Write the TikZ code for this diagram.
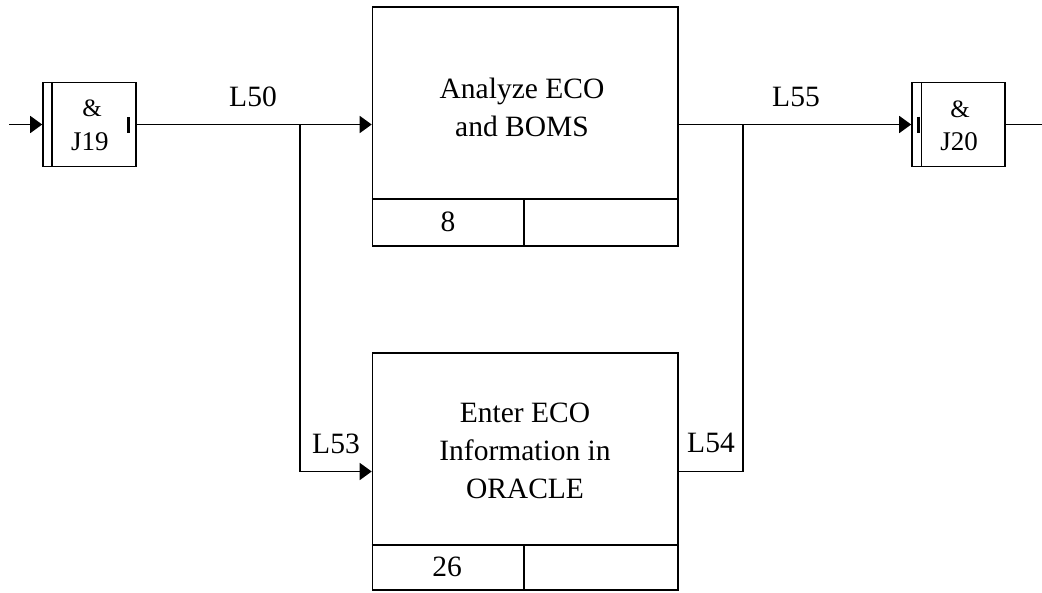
\documentclass[tikz,border=0pt]{standalone}
\usepackage{fontspec}
\setmainfont{Liberation Serif}
\usetikzlibrary{arrows.meta}
\begin{document}
\begin{tikzpicture}[x=1pt,y=-1pt, line width=1.6pt,
  box/.style={draw, rectangle, inner sep=0pt},
  lbl/.style={font=\fontsize{29.5}{38}\selectfont, inner sep=0pt, align=center},
  jlbl/.style={font=\fontsize{27}{30}\selectfont, inner sep=0pt},
  amp/.style={font=\fontsize{25}{28}\selectfont, inner sep=0pt},
  arr/.style={-{Triangle[length=12pt,width=17pt]}},
  tick/.style={line width=3pt},
  ]
\useasboundingbox (0,0) rectangle (1042,592);
% junction boxes
\node[box, minimum width=93pt, minimum height=84pt] (j19) at (89.5,124.5) {};
\draw (52,82.5) -- (52,166.5);
\node[amp] (a19) at (92,108) {\&};
\node[jlbl] (n19) at (90,141.5) {J19};
\draw[tick] (128,117) -- (128,133);
\node[box, minimum width=93pt, minimum height=84pt] (j20) at (958.5,124.5) {};
\draw (921.5,82.5) -- (921.5,166.5);
\node[amp] (a20) at (960,109) {\&};
\node[jlbl] (n20) at (959,142) {J20};
\draw[tick] (918.5,116.5) -- (918.5,133);
% activity A
\node[box, minimum width=305.5pt, minimum height=239pt] (A) at (525.25,126.5) {};
\coordinate (sA) at (524,199);
\draw (A.west |- sA) -- (A.east |- sA);
\draw (sA) -- (sA |- A.south);
\node[lbl] (tA) at (522,107) {Analyze ECO\\and BOMS};
\node[lbl] (nA) at (448,222) {8};
% activity B
\node[box, minimum width=305.5pt, minimum height=237pt] (B) at (525.25,471.5) {};
\coordinate (sB) at (524,545);
\draw (B.west |- sB) -- (B.east |- sB);
\draw (sB) -- (sB |- B.south);
\node[lbl] (tB) at (525,451) {Enter ECO\\Information in\\ORACLE};
\node[lbl] (nB) at (447,567) {26};
% connectors
\coordinate (in) at (9,124.5);
\coordinate (out) at (1042,124.5);
\coordinate (b1) at (300,124.5);
\coordinate (b2) at (743,124.5);
\draw[arr] (in) -- (j19.west);
\draw[arr] (j19.east) -- (A.west |- j19.east);
\draw[arr] (b1) |- (B.west);
\draw (B.east) -| (b2);
\draw[arr] (A.east |- j20.west) -- (j20.west);
\draw (j20.east) -- (out);
% labels
\node[lbl] (l50) at (253,97) {L50};
\node[lbl] (l55) at (796,97) {L55};
\node[lbl] (l53) at (336,444) {L53};
\node[lbl] (l54) at (711,443) {L54};
\end{tikzpicture}
\end{document}
